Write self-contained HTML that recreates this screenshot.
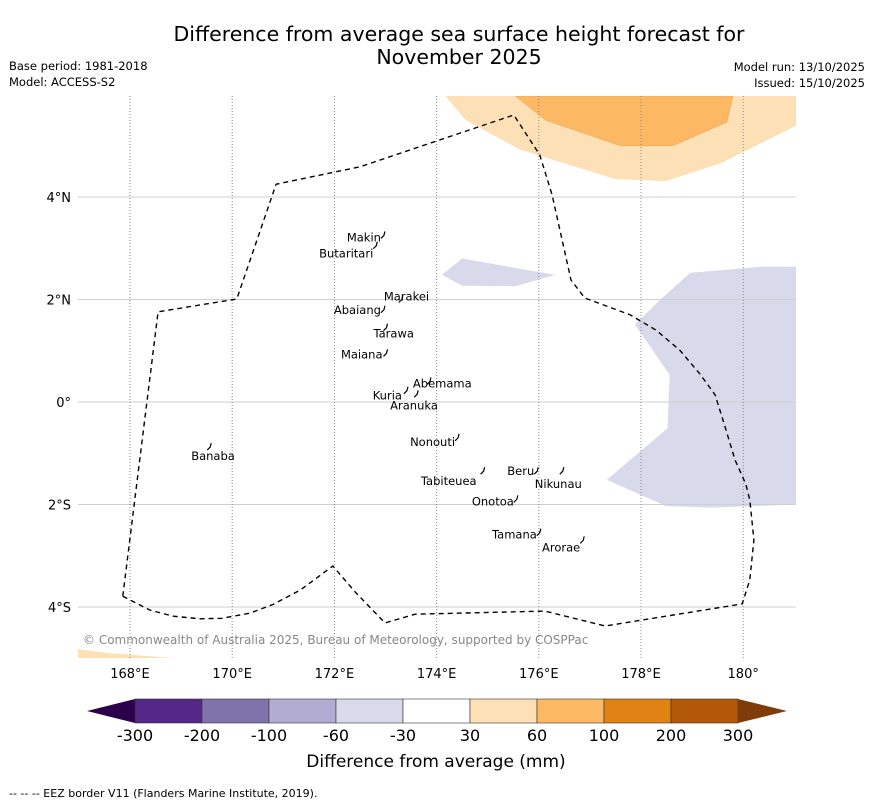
<!DOCTYPE html>
<html><head><meta charset="utf-8"><style>
body{margin:0;background:#fff;font-family:"Liberation Sans","DejaVu Sans",sans-serif}
svg text{font-family:"DejaVu Sans","Liberation Sans",sans-serif}
</style></head><body>
<svg id="s" width="873" height="804" viewBox="0 0 873 804">
<text x="459" y="41" font-size="20.5" text-anchor="middle">Difference from average sea surface height forecast for</text>
<text x="459" y="64" font-size="20.5" text-anchor="middle">November 2025</text>
<text x="9" y="70" font-size="11.5">Base period: 1981-2018</text>
<text x="9" y="86" font-size="11.5">Model: ACCESS-S2</text>
<text x="865" y="71" font-size="11.5" text-anchor="end">Model run: 13/10/2025</text>
<text x="865" y="87" font-size="11.5" text-anchor="end">Issued: 15/10/2025</text>
<g id="map"></g>
<g id="cb"></g>
<text x="436" y="767" font-size="17" text-anchor="middle">Difference from average (mm)</text>
<text x="9" y="797" font-size="11">--  --  -- EEZ border V11 (Flanders Marine Institute, 2019).</text>
</svg>
<script>
const lonTicks=[168,170,172,174,176,178,180];
const lonLabels=["168°E","170°E","172°E","174°E","176°E","178°E","180°"];
const latTicks=[4,2,0,-2,-4];
const latLabels=["4°N","2°N","0°","2°S","4°S"];
const cbBounds=["-300","-200","-100","-60","-30","30","60","100","200","300"];
const cbColors=["#542788","#8073ac","#b2abd2","#d8daeb","#ffffff","#fee0b6","#fdb863","#e08214","#b35806"];
const eez=[[167.86,-3.79],[168.55,1.76],[170.09,2.01],[170.86,4.25],[172.5,4.59],[175.51,5.6],[176.02,4.82],[176.26,4.04],[176.63,2.38],[176.9,2.03],[177.79,1.7],[178.3,1.4],[178.76,1.01],[179.15,0.55],[179.45,0.14],[179.65,-0.5],[179.84,-1.13],[180.05,-1.6],[180.13,-1.91],[180.21,-2.69],[180.13,-3.47],[179.98,-3.94],[177.3,-4.37],[176.12,-4.08],[173.58,-4.14],[172.99,-4.31],[172.4,-3.7],[171.97,-3.2],[171.33,-3.67],[170.8,-3.95],[170.35,-4.12],[169.8,-4.22],[169.37,-4.23],[168.85,-4.18],[168.39,-4.06],[167.86,-3.79]];
const islands=[["Makin",172.95,3.25,-2,6],["Butaritari",172.8,3.05,-2,12],["Marakei",173.3,2.0,-17,1],["Abaiang",172.95,1.8,-2,4],["Tarawa",173.0,1.45,-12,10],["Maiana",173.0,0.95,-3,5],["Abemama",173.85,0.4,-16,6],["Kuria",173.4,0.22,-4,9],["Aranuka",173.6,0.15,-26,15],["Nonouti",174.4,-0.7,-2,8],["Beru",175.95,-1.35,-2,4],["Nikunau",176.45,-1.35,-27,17],["Tabiteuea",174.9,-1.35,-6,14],["Onotoa",175.55,-1.9,-2,6],["Tamana",176.0,-2.55,-2,6],["Arorae",176.85,-2.7,-2,11],["Banaba",169.55,-0.88,-18,13]];
const lightOrange=[[174.17,5.97],[174.57,5.5],[175.64,4.92],[177.5,4.35],[178.48,4.31],[179.56,4.66],[181.05,5.4],[181.05,5.97]];
const darkOrange=[[175.54,5.97],[176.13,5.5],[177.6,5.0],[178.62,5.0],[179.68,5.46],[179.8,5.97]];
const purpleSmall=[[174.1,2.48],[174.5,2.8],[176.32,2.48],[175.54,2.26],[174.5,2.27]];
const purpleLarge=[[177.88,1.51],[178.37,1.99],[178.96,2.52],[180.33,2.64],[181.05,2.64],[181.05,-2.0],[179.37,-2.06],[178.49,-2.03],[177.33,-1.52],[178.52,-0.51],[178.56,0.53]];
const orangeCorner=[[166.96,-4.82],[167.59,-4.9],[169.55,-5.05],[166.96,-5.05]];
const NS='http://www.w3.org/2000/svg';
const X0=78,X1=796,Y0=96,Y1=658;
const px=lon=>130+(lon-168)*51.1;
const py=lat=>402-lat*51.25;
function mk(tag,attrs,parent){const e=document.createElementNS(NS,tag);for(const k in attrs)e.setAttribute(k,attrs[k]);parent.appendChild(e);return e;}
const map=document.getElementById('map');
const defs=mk('defs',{},map);
const cp=mk('clipPath',{id:'c'},defs);
mk('rect',{x:X0,y:Y0,width:X1-X0,height:Y1-Y0},cp);
const g=mk('g',{'clip-path':'url(#c)'},map);
const pts=a=>a.map(p=>px(p[0]).toFixed(1)+','+py(p[1]).toFixed(1)).join(' ');
[[lightOrange,'#fee0b6','light-orange-region'],[darkOrange,'#fdb863','dark-orange-region'],[purpleSmall,'#d8daeb','light-purple-region-small'],[purpleLarge,'#d8daeb','light-purple-region-large'],[orangeCorner,'#fee0b6','light-orange-corner']].forEach(r=>{
 const e=mk('polygon',{points:pts(r[0]),fill:r[1],stroke:r[1]==='#fdb863'?'#e8a050':'none','stroke-width':0.5},g);
 
 
});
latTicks.forEach((v,i)=>{
 const y=py(v);
 const l=mk('line',{x1:X0,x2:X1,y1:y,y2:y,stroke:'#cfcfcf','stroke-width':1},g);
 
 
 const t=mk('text',{x:71,y:y+5,'font-size':13,'text-anchor':'end'},map);
 t.textContent=latLabels[i];
 
 
});
lonTicks.forEach((v,i)=>{
 const x=px(v);
 const l=mk('line',{x1:x,x2:x,y1:Y0,y2:Y1,stroke:'#888','stroke-width':1,'stroke-dasharray':'1,2'},g);
 
 
 const t=mk('text',{x:x,y:678,'font-size':13,'text-anchor':'middle'},map);
 t.textContent=lonLabels[i];
 
 
});
const ez=mk('polyline',{points:pts(eez),fill:'none',stroke:'#000','stroke-width':1.4,'stroke-dasharray':'5,4'},g);


islands.forEach(s=>{
 const x=px(s[1]),y=py(s[2]);
 const m=mk('path',{d:`M${x-2},${y+3} l3,-3 l1,-4`,fill:'none',stroke:'#000','stroke-width':1.2},g);
 
 
 const t=mk('text',{x:x+s[3],y:y+s[4],'font-size':11.5,'text-anchor':'end'},g);
 if(['Marakei','Abemama','Aranuka','Nikunau','Tarawa','Banaba'].includes(s[0]))t.setAttribute('text-anchor','start');
 t.textContent=s[0];
 
 
});
const cr=mk('text',{x:83,y:644,'font-size':12,fill:'#888'},map);
cr.textContent='© Commonwealth of Australia 2025, Bureau of Meteorology, supported by COSPPac';


const cb=document.getElementById('cb');
const cx0=135,cw=67,cy=699,ch=24;
const lt=mk('polygon',{points:`${cx0},${cy} ${cx0},${cy+ch} 87,${cy+ch/2}`,fill:'#2d004b'},cb);


cbColors.forEach((c,i)=>{
 const r=mk('rect',{x:cx0+i*cw,y:cy,width:cw,height:ch,fill:c,stroke:'#333','stroke-width':0.6},cb);
 
 
});
const rt=mk('polygon',{points:`${cx0+9*cw},${cy} ${cx0+9*cw},${cy+ch} 787,${cy+ch/2}`,fill:'#7f3b08'},cb);


cbBounds.forEach((b,i)=>{
 const t=mk('text',{x:cx0+i*cw,y:741,'font-size':16,'text-anchor':'middle'},cb);
 t.textContent=b;
 
 
});
</script>
</body></html>
